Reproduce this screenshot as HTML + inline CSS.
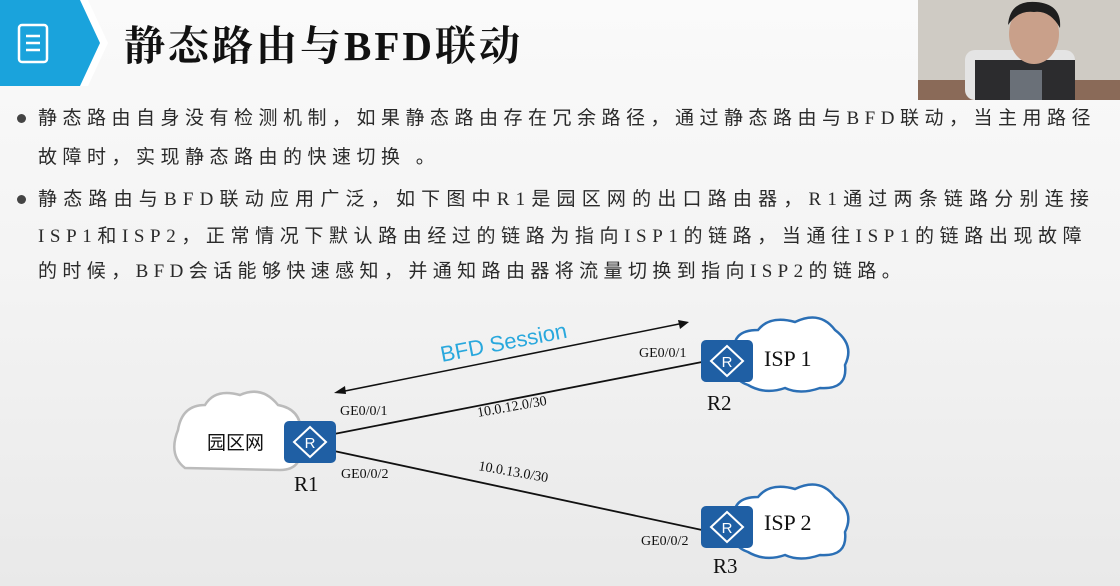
<!DOCTYPE html>
<html><head><meta charset="utf-8"><style>
html,body{margin:0;padding:0}
body{width:1120px;height:586px;position:relative;overflow:hidden;background:linear-gradient(#fafafa 0%,#f3f3f3 50%,#e9e9e9 100%);font-family:"Liberation Serif","Noto Sans CJK SC",serif}
.t{position:absolute;left:38px;font-size:19px;letter-spacing:5.2px;color:#2a2a2a;white-space:nowrap;font-family:"Liberation Serif","Noto Sans CJK SC",sans-serif}
.b{position:absolute;left:17px;width:9px;height:9px;border-radius:50%;background:#444}
</style></head><body>
<svg width="1120" height="586" style="position:absolute;left:0;top:0">
<polygon points="0,0 82,0 102,43 82,86 0,86" fill="#1aa3dc"/>
<polygon points="80,0 88,0 108,43 88,86 80,86 100,43" fill="#fff"/>
<rect x="19" y="25" width="28" height="37" rx="3" fill="none" stroke="#fff" stroke-width="2.5"/>
<line x1="26" y1="36" x2="40" y2="36" stroke="#fff" stroke-width="2.5"/>
<line x1="26" y1="43" x2="40" y2="43" stroke="#fff" stroke-width="2.5"/>
<line x1="26" y1="50" x2="40" y2="50" stroke="#fff" stroke-width="2.5"/>
<text x="124" y="60" font-size="41" font-weight="bold" fill="#111" font-family="Liberation Serif,Noto Serif CJK SC,serif" letter-spacing="3">静态路由与BFD联动</text>
<!-- webcam -->
<rect x="918" y="0" width="202" height="100" fill="#cfcbc4"/>
<rect x="918" y="80" width="202" height="20" fill="#8a6a58"/>
<rect x="965" y="50" width="110" height="50" rx="10" fill="#e4e4e4"/>
<rect x="975" y="60" width="100" height="40" fill="#2c2c2e"/>
<rect x="1010" y="70" width="32" height="30" fill="#6a7078"/>
<ellipse cx="1034" cy="34" rx="25" ry="30" fill="#c9a08a"/>
<path d="M1008 25 Q1010 0 1036 2 Q1062 4 1060 28 Q1050 10 1034 12 Q1018 10 1008 25Z" fill="#1e1e1e"/>
<!-- links -->
<line x1="334" y1="434" x2="702" y2="362" stroke="#111" stroke-width="1.8"/>
<line x1="334" y1="451" x2="702" y2="530" stroke="#111" stroke-width="1.8"/>
<line x1="340" y1="392" x2="684" y2="323" stroke="#111" stroke-width="1.5"/>
<polygon points="334,393 345,386 346,394" fill="#111"/>
<polygon points="689,322 678,320 680,329" fill="#111"/>
<text x="0" y="0" font-size="22" fill="#29a8dd" font-family="Liberation Sans,sans-serif" transform="translate(442,362) rotate(-11)">BFD Session</text>
<!-- clouds -->
<g fill="#fff" stroke="#bbb" stroke-width="2.5">
<path d="M185 468 Q168 455 178 430 Q182 405 205 405 Q215 388 240 395 Q262 385 278 405 Q305 410 300 440 Q305 470 280 470 Z"/>
</g>
<g fill="#fff" stroke="#2b6fb5" stroke-width="2.5">
<path d="M748 385 Q728 378 735 355 Q730 330 758 330 Q770 315 795 322 Q820 310 835 330 Q855 345 845 365 Q848 390 820 388 Q800 395 785 388 Q765 395 748 385Z"/>
<path d="M748 552 Q728 545 735 522 Q730 497 758 497 Q770 482 795 489 Q820 477 835 497 Q855 512 845 532 Q848 557 820 555 Q800 562 785 555 Q765 562 748 552Z"/>
</g>
<!-- routers -->
<g>
<rect x="284" y="421" width="52" height="42" rx="5" fill="#1f5fa4"/>
<polygon points="310,427 326,442 310,457 294,442" fill="none" stroke="#fff" stroke-width="2"/>
<text x="310" y="448" font-size="15" fill="#fff" text-anchor="middle" font-family="Liberation Sans,sans-serif">R</text>
<rect x="701" y="340" width="52" height="42" rx="5" fill="#1f5fa4"/>
<polygon points="727,346 743,361 727,376 711,361" fill="none" stroke="#fff" stroke-width="2"/>
<text x="727" y="367" font-size="15" fill="#fff" text-anchor="middle" font-family="Liberation Sans,sans-serif">R</text>
<rect x="701" y="506" width="52" height="42" rx="5" fill="#1f5fa4"/>
<polygon points="727,512 743,527 727,542 711,527" fill="none" stroke="#fff" stroke-width="2"/>
<text x="727" y="533" font-size="15" fill="#fff" text-anchor="middle" font-family="Liberation Sans,sans-serif">R</text>
</g>
<g font-family="Liberation Serif,Noto Sans CJK SC,serif" fill="#111">
<text x="207" y="449" font-size="19" font-family="Noto Sans CJK SC,sans-serif">园区网</text>
<text x="294" y="491" font-size="21">R1</text>
<text x="707" y="410" font-size="21">R2</text>
<text x="713" y="573" font-size="21">R3</text>
<text x="764" y="366" font-size="22">ISP 1</text>
<text x="764" y="530" font-size="22">ISP 2</text>
<g font-size="14">
<text x="340" y="415">GE0/0/1</text>
<text x="341" y="478">GE0/0/2</text>
<text x="639" y="357">GE0/0/1</text>
<text x="641" y="545">GE0/0/2</text>
<text transform="translate(478,417) rotate(-10)">10.0.12.0/30</text>
<text transform="translate(478,470) rotate(10)">10.0.13.0/30</text>
</g>
</g>
</svg>
<div class="b" style="top:114px"></div>
<div class="t" style="top:103px;letter-spacing:5.5px">静态路由自身没有检测机制，如果静态路由存在冗余路径，通过静态路由与BFD联动，当主用路径</div>
<div class="t" style="top:142px;letter-spacing:5.5px">故障时，实现静态路由的快速切换 。</div>
<div class="b" style="top:195px"></div>
<div class="t" style="top:184px;letter-spacing:6.2px">静态路由与BFD联动应用广泛，如下图中R1是园区网的出口路由器，R1通过两条链路分别连接</div>
<div class="t" style="top:221px;letter-spacing:5.6px">ISP1和ISP2，正常情况下默认路由经过的链路为指向ISP1的链路，当通往ISP1的链路出现故障</div>
<div class="t" style="top:256px;letter-spacing:5.4px">的时候，BFD会话能够快速感知，并通知路由器将流量切换到指向ISP2的链路。</div>
</body></html>
